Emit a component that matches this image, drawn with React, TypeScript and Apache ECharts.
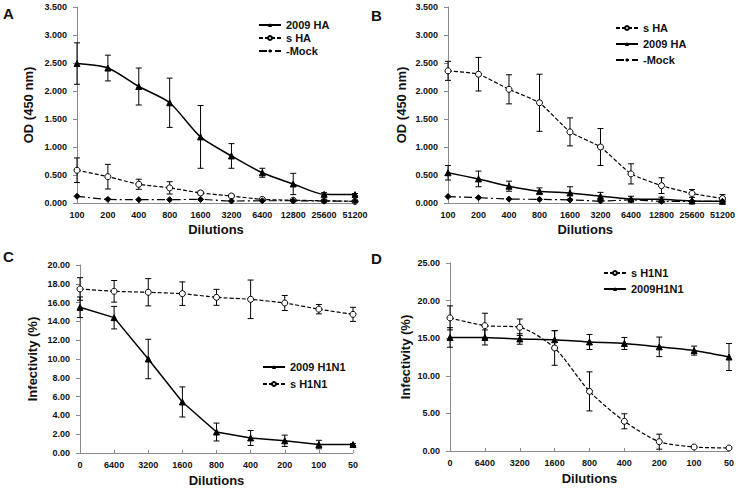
import React, { useEffect, useRef } from "react";
import * as echarts from "echarts";

// ---------- Data ----------
const dilAB = ["100", "200", "400", "800", "1600", "3200", "6400", "12800", "25600", "51200"];
const dilCD = ["0", "6400", "3200", "1600", "800", "400", "200", "100", "50"];

// Panel A
const aHA2009 = [2.49, 2.41, 2.08, 1.79, 1.18, 0.84, 0.54, 0.34, 0.155, 0.15];
const aHA2009Err = [0.37, 0.23, 0.33, 0.44, 0.56, 0.22, 0.08, 0.19, 0.03, 0.02];
const aSHA = [0.585, 0.47, 0.335, 0.27, 0.18, 0.125, 0.065, 0.05, 0.04, 0.03];
const aSHAErr = [0.22, 0.22, 0.09, 0.11, 0.03, 0.02, 0.01, 0.01, 0.01, 0.01];
const aMock = [0.12, 0.065, 0.06, 0.06, 0.065, 0.035, 0.04, 0.04, 0.035, 0.03];

// Panel B
const bSHA = [2.36, 2.30, 2.03, 1.79, 1.27, 1.0, 0.52, 0.31, 0.17, 0.08];
const bSHAErr = [0.17, 0.30, 0.26, 0.51, 0.25, 0.33, 0.18, 0.14, 0.07, 0.07];
const bHA2009 = [0.54, 0.43, 0.30, 0.21, 0.18, 0.12, 0.07, 0.065, 0.035, 0.03];
const bHA2009Err = [0.13, 0.14, 0.09, 0.06, 0.11, 0.07, 0.05, 0.04, 0.01, 0.01];
const bMock = [0.115, 0.095, 0.07, 0.065, 0.055, 0.035, 0.055, 0.03, 0.03, 0.03];

// Panel C
const cH1N12009 = [15.5, 14.4, 10.0, 5.43, 2.23, 1.6, 1.3, 0.9, 0.9];
const cH1N12009Err = [1.1, 1.2, 2.1, 1.6, 0.95, 0.8, 0.6, 0.45, 0.1];
const cSH1N1 = [17.45, 17.2, 17.1, 16.95, 16.56, 16.35, 15.96, 15.3, 14.75];
const cSH1N1Err = [1.2, 1.15, 1.45, 1.25, 0.85, 2.05, 0.8, 0.5, 0.75];

// Panel D
const dSH1N1 = [17.7, 16.67, 16.45, 13.7, 7.93, 3.95, 1.24, 0.53, 0.4];
const dSH1N1Err = [1.6, 1.65, 1.1, 2.3, 2.6, 1.0, 1.0, 0.1, 0.1];
const dH1N12009 = [15.1, 15.1, 14.9, 14.8, 14.5, 14.3, 13.85, 13.35, 12.5];
const dH1N12009Err = [1.3, 1.0, 0.7, 1.2, 1.0, 0.8, 1.3, 0.6, 1.8];

const FONT = "'Liberation Sans', Arial, sans-serif";
const AXIS_GRAY = "#8a8a8a";

function errSeries(values: number[], errs: number[], idx: number) {
  return {
    type: "custom",
    xAxisIndex: idx,
    yAxisIndex: idx,
    silent: true,
    z: 1,
    data: values.map((v, i) => [i, v - errs[i], v + errs[i]]),
    renderItem: (params: any, api: any) => {
      const x = api.value(0);
      const lo = api.coord([x, api.value(1)]);
      const hi = api.coord([x, api.value(2)]);
      const w = 3;
      const st = { stroke: "#000", lineWidth: 1 };
      return {
        type: "group",
        children: [
          { type: "line", shape: { x1: lo[0], y1: lo[1], x2: hi[0], y2: hi[1] }, style: st },
          { type: "line", shape: { x1: lo[0] - w, y1: lo[1], x2: lo[0] + w, y2: lo[1] }, style: st },
          { type: "line", shape: { x1: hi[0] - w, y1: hi[1], x2: hi[0] + w, y2: hi[1] }, style: st },
        ],
      };
    },
  };
}

const solid = { color: "#000", width: 1.5, type: "solid" as const };
const dashed = { color: "#000", width: 1.2, type: [4, 2] };
const dashDot = { color: "#000", width: 1.2, type: [8, 3, 2, 3] };

function lineSeries(name: string, data: number[], idx: number, kind: "tri" | "circ" | "dia", smooth: number | boolean) {
  const ls = kind === "tri" ? solid : kind === "circ" ? dashed : dashDot;
  return {
    type: "line",
    name,
    xAxisIndex: idx,
    yAxisIndex: idx,
    data,
    smooth,
    z: 3,
    symbol: kind === "tri" ? "triangle" : kind === "circ" ? "circle" : "diamond",
    symbolSize: 6,
    itemStyle: kind === "circ" ? { color: "#fff", borderColor: "#000", borderWidth: 1 } : { color: "#000", borderColor: "#000" },
    lineStyle: ls,
  };
}

function xAxis(data: string[], idx: number, nameGap: number) {
  return {
    type: "category",
    gridIndex: idx,
    data,
    boundaryGap: false,
    name: "Dilutions",
    nameLocation: "middle",
    nameGap,
    nameTextStyle: { fontFamily: FONT, fontWeight: "bold", fontSize: 13, color: "#111" },
    axisLine: { lineStyle: { color: AXIS_GRAY, width: 1 } },
    axisTick: { show: true, inside: true, length: 3, lineStyle: { color: AXIS_GRAY } },
    axisLabel: { fontFamily: FONT, fontWeight: "bold", fontSize: 9, color: "#111", margin: 7, interval: 0 },
    splitLine: { show: false },
  };
}

function yAxis(idx: number, name: string, max: number, interval: number, dec: number, nameGap: number) {
  return {
    type: "value",
    gridIndex: idx,
    min: 0,
    max,
    interval,
    name,
    nameLocation: "middle",
    nameGap,
    nameRotate: 90,
    nameTextStyle: { fontFamily: FONT, fontWeight: "bold", fontSize: 13, color: "#111" },
    axisLine: { show: true, lineStyle: { color: AXIS_GRAY, width: 1 } },
    axisTick: { show: true, length: 4, lineStyle: { color: AXIS_GRAY } },
    axisLabel: { fontFamily: FONT, fontWeight: "bold", fontSize: 9, color: "#111", margin: 10, formatter: (v: number) => v.toFixed(dec) },
    splitLine: { show: false },
  };
}

function legend(names: string[], left: number, top: number, gap: number) {
  return {
    data: names,
    orient: "vertical",
    left,
    top,
    itemGap: gap,
    itemWidth: 22,
    itemHeight: 5,
    itemTextGap: 3,
    selectedMode: false,
    padding: 0,
    textStyle: { fontFamily: FONT, fontWeight: "bold", fontSize: 11, color: "#111", lineHeight: 12 },
  };
}

function letter(t: string, x: number, y: number) {
  return {
    type: "text",
    x,
    y,
    style: { text: t, fontFamily: FONT, fontWeight: "bold", fontSize: 15, fill: "#111", textVerticalAlign: "top" },
  };
}

export default function App() {
  const ref = useRef<HTMLDivElement>(null);
  useEffect(() => {
    document.body.style.margin = "0";
    if (!ref.current) return;
    const chart = echarts.init(ref.current, undefined, { renderer: "svg" });
    chart.setOption({
      animation: false,
      backgroundColor: "#fff",
      grid: [
        { left: 77, top: 7, width: 278, height: 196 },
        { left: 448, top: 7, width: 275, height: 196 },
        { left: 80, top: 265, width: 273, height: 188 },
        { left: 450, top: 263, width: 279, height: 188 },
      ],
      xAxis: [xAxis(dilAB, 0, 20), xAxis(dilAB, 1, 20), xAxis(dilCD, 2, 21), xAxis(dilCD, 3, 21)],
      yAxis: [
        yAxis(0, "OD (450 nm)", 3.5, 0.5, 3, 42),
        yAxis(1, "OD (450 nm)", 3.5, 0.5, 3, 40),
        yAxis(2, "Infectivity (%)", 20, 2, 2, 41),
        yAxis(3, "Infectivity (%)", 25, 5, 2, 38),
      ],
      legend: [
        legend(["2009 HA", "s HA", "-Mock"], 258, 19, 1),
        legend(["s HA ", "2009 HA ", "-Mock "], 615, 22, 4),
        legend(["2009 H1N1", "s H1N1"], 262, 361, 5),
        legend(["s H1N1 ", "2009H1N1"], 603, 267, 4),
      ],
      graphic: [letter("A", 3, 6), letter("B", 371, 8), letter("C", 3, 249), letter("D", 371, 251)],
      series: [
        errSeries(aHA2009, aHA2009Err, 0),
        errSeries(aSHA, aSHAErr, 0),
        lineSeries("2009 HA", aHA2009, 0, "tri", 0.25),
        lineSeries("s HA", aSHA, 0, "circ", 0.25),
        lineSeries("-Mock", aMock, 0, "dia", 0.2),

        errSeries(bSHA, bSHAErr, 1),
        errSeries(bHA2009, bHA2009Err, 1),
        lineSeries("s HA ", bSHA, 1, "circ", 0.15),
        lineSeries("2009 HA ", bHA2009, 1, "tri", 0.15),
        lineSeries("-Mock ", bMock, 1, "dia", 0.15),

        errSeries(cH1N12009, cH1N12009Err, 2),
        errSeries(cSH1N1, cSH1N1Err, 2),
        lineSeries("2009 H1N1", cH1N12009, 2, "tri", false),
        lineSeries("s H1N1", cSH1N1, 2, "circ", 0.15),

        errSeries(dSH1N1, dSH1N1Err, 3),
        errSeries(dH1N12009, dH1N12009Err, 3),
        lineSeries("s H1N1 ", dSH1N1, 3, "circ", 0.25),
        lineSeries("2009H1N1", dH1N12009, 3, "tri", 0.15),
      ],
    });
    return () => chart.dispose();
  }, []);
  return <div ref={ref} style={{ width: 738, height: 489 }} />;
}
